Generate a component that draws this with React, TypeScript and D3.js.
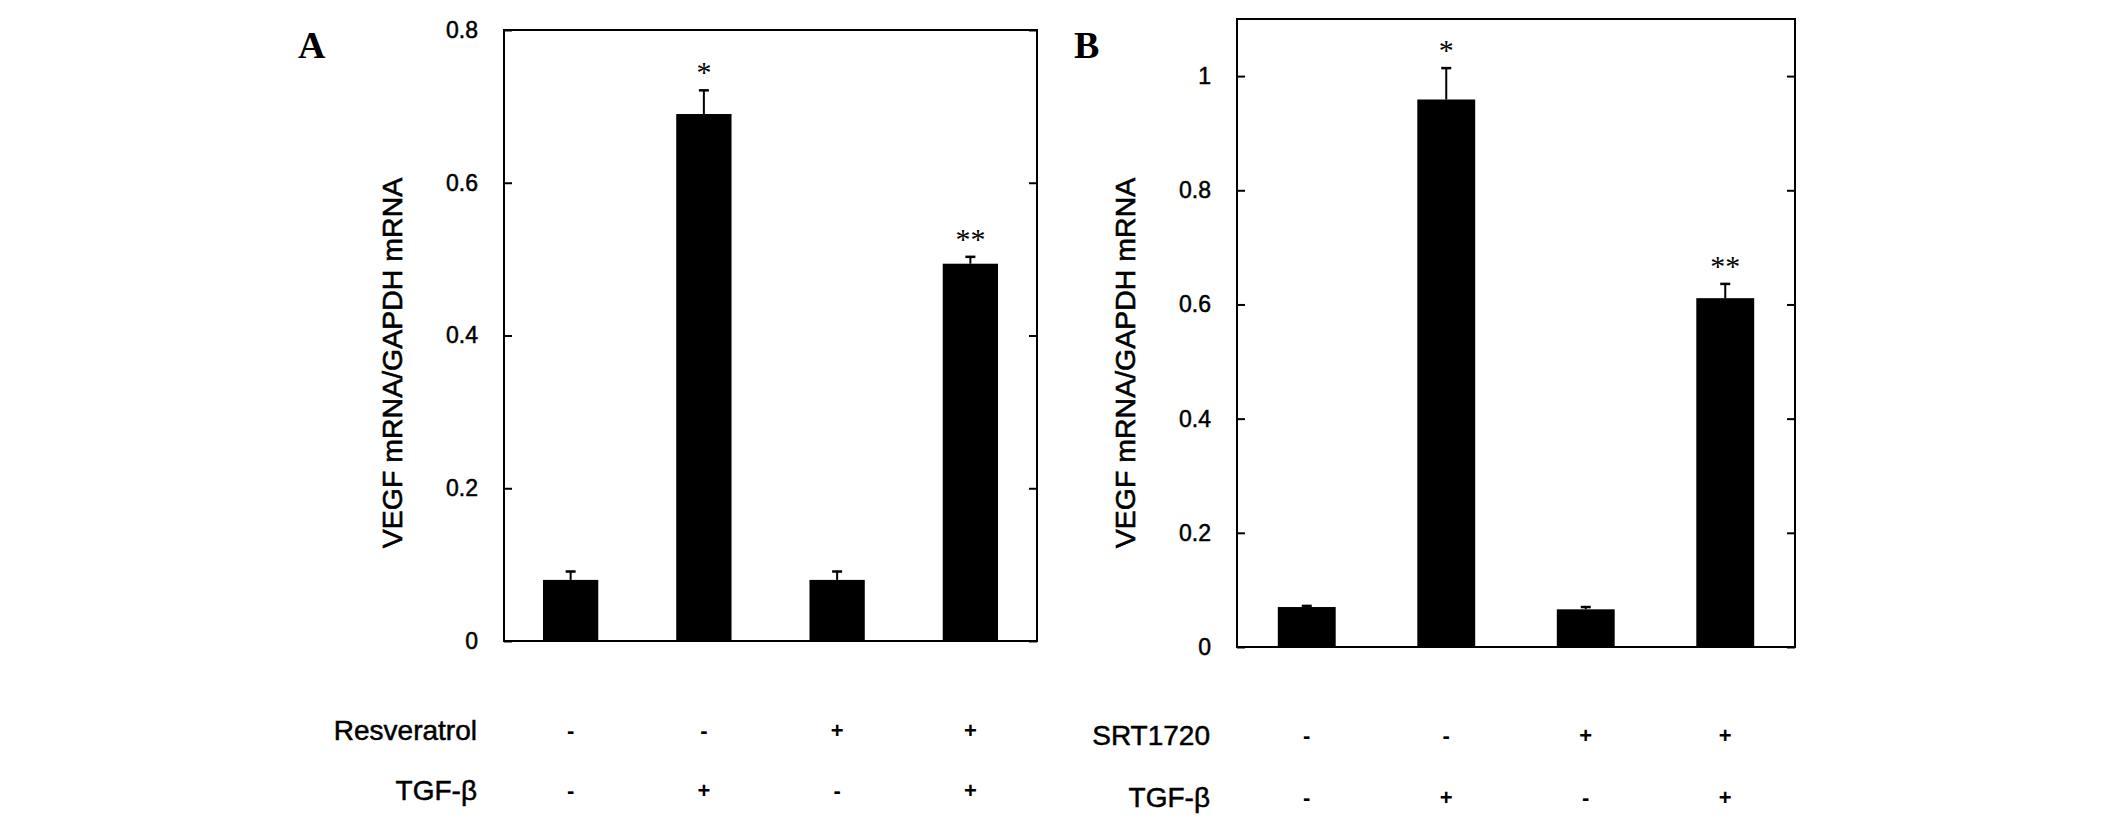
import React, { useEffect, useRef } from 'react';
import * as d3 from 'd3';

// conditions, left to right in both panels
const conditions = ['control', 'TGF-β', 'drug', 'drug + TGF-β'];
const drugSigns = ['-', '-', '+', '+'];
const tgfSigns = ['-', '+', '-', '+'];

// panel A: resveratrol
const resveratrolMeans = [0.08, 0.69, 0.08, 0.494];
const resveratrolErrors = [0.011, 0.031, 0.011, 0.009];
const resveratrolStars = ['', '*', '', '**'];
const resveratrolTicks = [0, 0.2, 0.4, 0.6, 0.8];

// panel B: SRT1720
const srtMeans = [0.07, 0.959, 0.066, 0.611];
const srtErrors = [0.002, 0.055, 0.004, 0.025];
const srtStars = ['', '*', '', '**'];
const srtTicks = [0, 0.2, 0.4, 0.6, 0.8, 1];

const yTitle = 'VEGF mRNA/GAPDH mRNA';
const sans = "'Liberation Sans', Arial, sans-serif";
const serif = "'Liberation Serif', 'Times New Roman', serif";

interface PanelSpec {
  letter: string;
  drugName: string;
  means: number[];
  errors: number[];
  stars: string[];
  ticks: number[];
  yMax: number;
  left: number;
  right: number;
  top: number;
  bottom: number;
}

const panels: PanelSpec[] = [
  { letter: 'A', drugName: 'Resveratrol', means: resveratrolMeans, errors: resveratrolErrors,
    stars: resveratrolStars, ticks: resveratrolTicks, yMax: 0.8, left: 504, right: 1037, top: 30, bottom: 641 },
  { letter: 'B', drugName: 'SRT1720', means: srtMeans, errors: srtErrors,
    stars: srtStars, ticks: srtTicks, yMax: 1.1, left: 1237, right: 1795, top: 19, bottom: 647 },
];

export default function App() {
  const svgRef = useRef<SVGSVGElement>(null);

  useEffect(() => {
    if (!svgRef.current) return;
    const svg = d3.select(svgRef.current);
    svg.selectAll('*').remove();

    panels.forEach((p) => {
      const g = svg.append('g');
      const x = d3.scaleBand<string>()
        .domain(conditions)
        .range([p.left, p.right])
        .paddingInner(0.585)
        .paddingOuter(0.2925);
      const y = d3.scaleLinear().domain([0, p.yMax]).range([p.bottom, p.top]);

      // frame
      g.append('rect')
        .attr('x', p.left).attr('y', p.top)
        .attr('width', p.right - p.left).attr('height', p.bottom - p.top)
        .attr('fill', 'none').attr('stroke', '#000').attr('stroke-width', 2);

      const fmt = (d: d3.NumberValue) => d3.format('')(+d);

      const leftAxis = g.append('g')
        .attr('transform', `translate(${p.left},0)`)
        .call(d3.axisLeft(y).tickValues(p.ticks).tickSizeInner(-8).tickSizeOuter(0).tickPadding(26).tickFormat(fmt));
      leftAxis.select('.domain').remove();
      leftAxis.selectAll('line').attr('stroke-width', 2);
      leftAxis.selectAll('text')
        .attr('font-family', sans).attr('font-size', 23).attr('fill', '#000')
        .attr('stroke', '#000').attr('stroke-width', 0.5);

      const rightAxis = g.append('g')
        .attr('transform', `translate(${p.right},0)`)
        .call(d3.axisRight(y).tickValues(p.ticks).tickSizeInner(-8).tickSizeOuter(0).tickFormat(() => ''));
      rightAxis.select('.domain').remove();
      rightAxis.selectAll('line').attr('stroke-width', 2);

      // bars
      g.selectAll('rect.bar')
        .data(p.means)
        .enter()
        .append('rect')
        .attr('class', 'bar')
        .attr('x', (_, i) => x(conditions[i])!)
        .attr('y', (d) => y(d))
        .attr('width', x.bandwidth())
        .attr('height', (d) => y(0) - y(d))
        .attr('fill', '#000');

      // error bars (upper only)
      const cx = (i: number) => x(conditions[i])! + x.bandwidth() / 2;
      p.means.forEach((m, i) => {
        const top = y(m + p.errors[i]);
        g.append('line')
          .attr('x1', cx(i)).attr('x2', cx(i))
          .attr('y1', y(m)).attr('y2', top)
          .attr('stroke', '#000').attr('stroke-width', 2);
        g.append('line')
          .attr('x1', cx(i) - 5).attr('x2', cx(i) + 5)
          .attr('y1', top).attr('y2', top)
          .attr('stroke', '#000').attr('stroke-width', 2.5);
        if (p.stars[i]) {
          g.append('text')
            .attr('x', cx(i)).attr('y', top - 23 + 15)
            .attr('text-anchor', 'middle')
            .attr('font-family', serif).attr('font-size', 30)
            .text(p.stars[i]);
        }
      });

      // y title
      const titleX = p.left - 112;
      const titleY = 363;
      g.append('text')
        .attr('transform', `translate(${titleX},${titleY}) rotate(-90)`)
        .attr('text-anchor', 'middle')
        .attr('dominant-baseline', 'central')
        .attr('font-family', sans).attr('font-size', 28.5)
        .attr('stroke', '#000').attr('stroke-width', 0.6)
        .text(yTitle);

      // panel letter
      g.append('text')
        .attr('x', p.left - (p.letter === 'A' ? 206 : 163)).attr('y', 58)
        .attr('font-family', serif).attr('font-weight', 'bold').attr('font-size', 38)
        .text(p.letter);

      // treatment rows
      const rows = [
        { name: p.drugName, signs: drugSigns, cy: p.letter === 'A' ? 730 : 735 },
        { name: 'TGF-β', signs: tgfSigns, cy: p.letter === 'A' ? 790 : 797 },
      ];
      rows.forEach((r) => {
        g.append('text')
          .attr('x', p.left - 27).attr('y', r.cy + 10)
          .attr('text-anchor', 'end')
          .attr('font-family', sans).attr('font-size', 28)
          .attr('stroke', '#000').attr('stroke-width', 0.5)
          .text(r.name);
        r.signs.forEach((s, i) => {
          g.append('text')
            .attr('x', cx(i)).attr('y', r.cy + 8)
            .attr('text-anchor', 'middle')
            .attr('font-family', sans).attr('font-weight', 'bold').attr('font-size', 22)
            .text(s);
        });
      });
    });
  }, []);

  return (
    <svg
      ref={svgRef}
      width={2126}
      height={828}
      style={{ position: 'absolute', left: 0, top: 0, background: '#fff' }}
    />
  );
}
